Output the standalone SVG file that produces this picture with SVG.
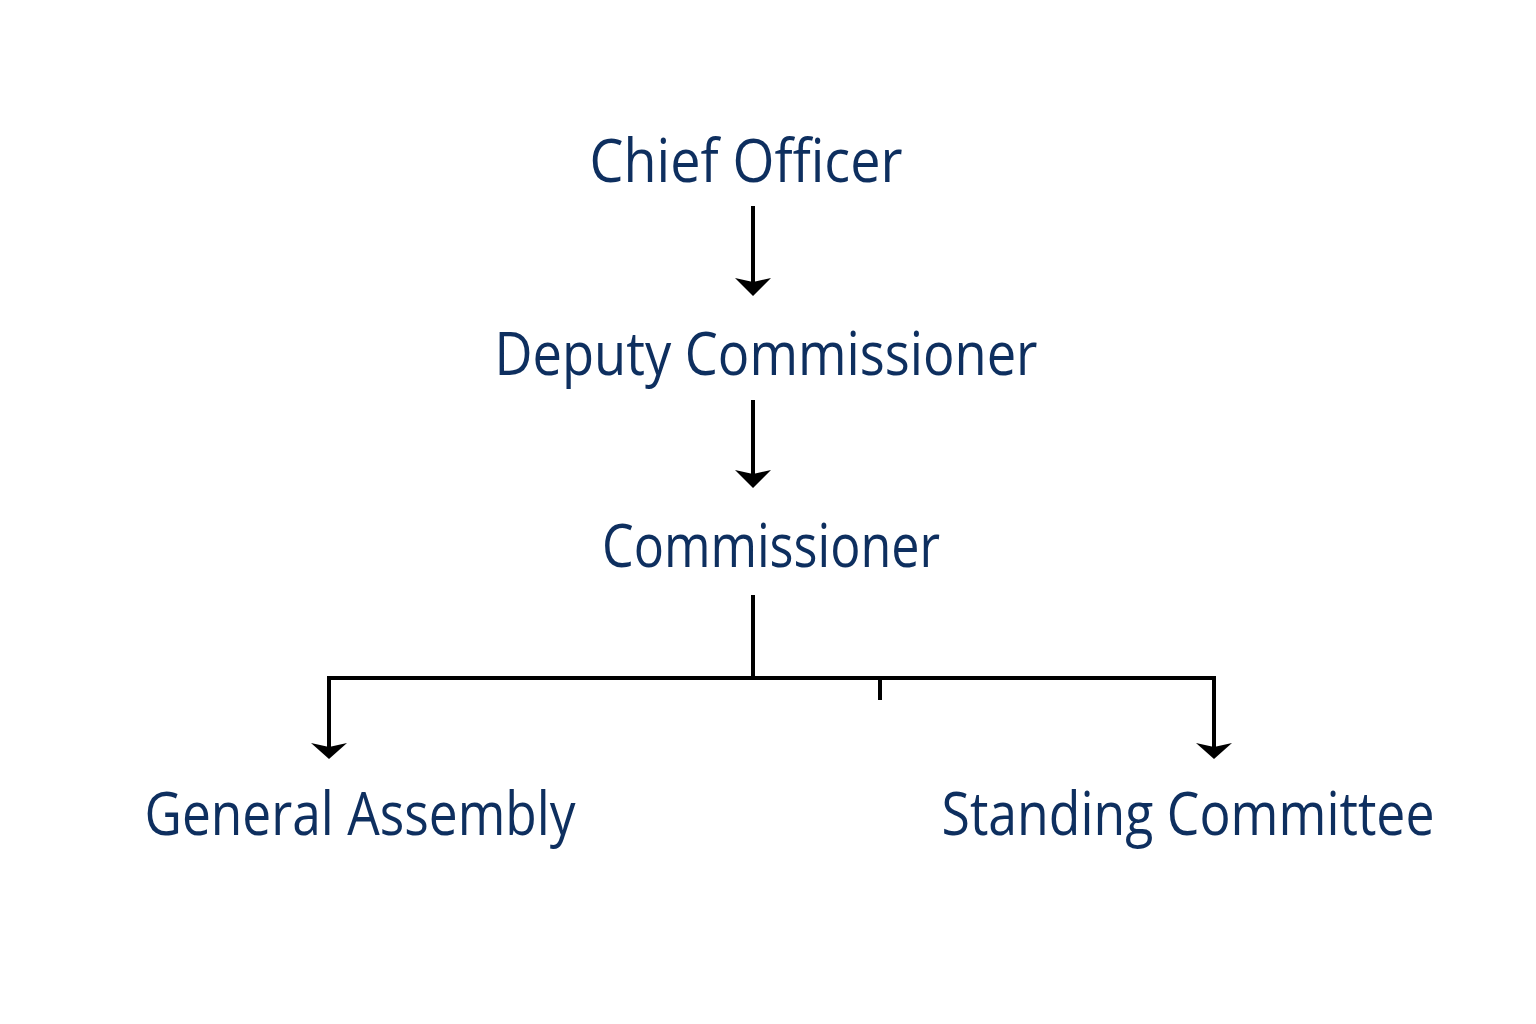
<svg xmlns="http://www.w3.org/2000/svg" width="1536" height="1024" viewBox="0 0 1536 1024">
<style>
.t{font-family:"Open Sans","Noto Sans",sans-serif;font-size:60px;fill:#0e2f5f;text-anchor:middle}
.c{stroke:#000;stroke-width:4;fill:none}
.h{fill:#000}
</style>
<rect width="1536" height="1024" fill="#fff"/>
<g id="chief-officer"><text class="t" x="746" y="182" textLength="313" lengthAdjust="spacingAndGlyphs">Chief Officer</text></g>
<g id="deputy-commissioner"><text class="t" x="766" y="375" textLength="543" lengthAdjust="spacingAndGlyphs">Deputy Commissioner</text></g>
<g id="commissioner"><text class="t" x="771" y="567" textLength="338" lengthAdjust="spacingAndGlyphs">Commissioner</text></g>
<g id="general-assembly"><text class="t" x="360" y="835" textLength="431" lengthAdjust="spacingAndGlyphs">General Assembly</text></g>
<g id="standing-committee"><text class="t" x="1188" y="835" textLength="493" lengthAdjust="spacingAndGlyphs">Standing Committee</text></g>
<g id="connectors">
<path class="c" d="M753,206V285"/>
<polygon class="h" points="735,278 753,282 771,278 753,296"/>
<path class="c" d="M753,400V476"/>
<polygon class="h" points="735,470 753,474 771,470 753,488"/>
<path class="c" d="M753,595V678M329,750V678H1214V750M880,678V700"/>
<polygon class="h" points="311,743 329,747 347,743 329,759"/>
<polygon class="h" points="1196,743 1214,747 1232,743 1214,759"/>
</g>
</svg>
